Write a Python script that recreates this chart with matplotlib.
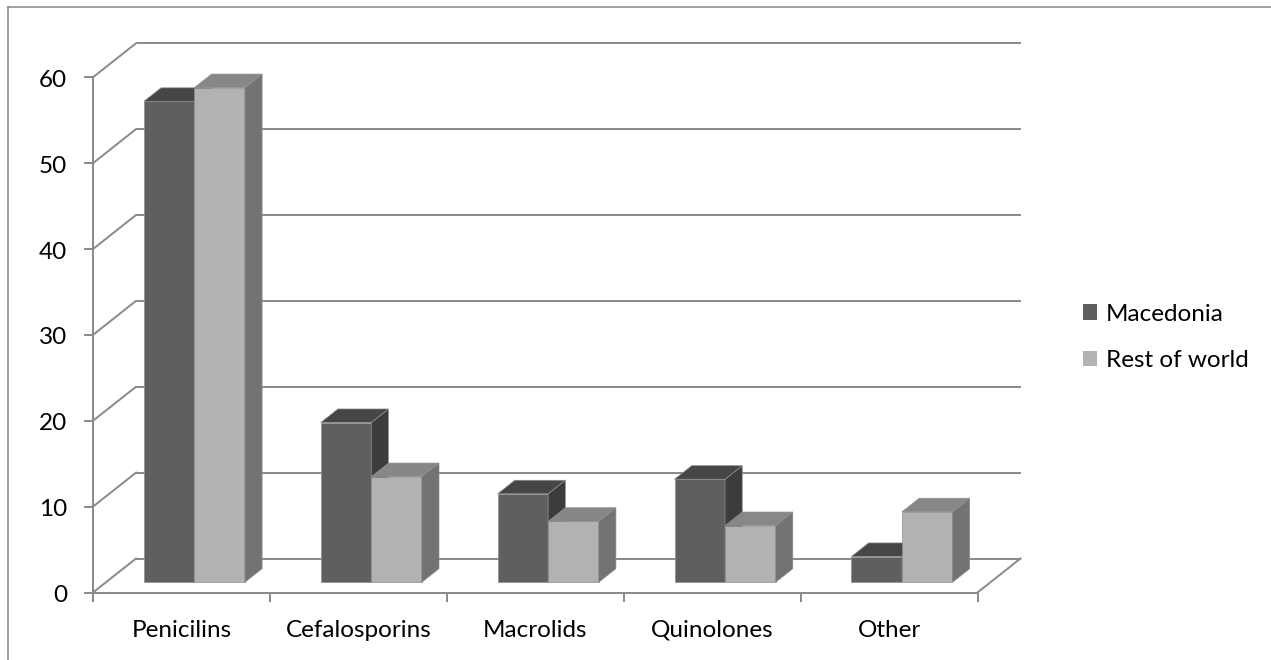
import matplotlib
matplotlib.use("Agg")
import matplotlib.pyplot as plt
from matplotlib.patches import Polygon, Patch
from matplotlib.lines import Line2D

# ---- data -------------------------------------------------------------
categories = ["Penicilins", "Cefalosporins", "Macrolids", "Quinolones", "Other"]
macedonia = [56.0, 18.6, 10.3, 12.0, 3.0]
rest_of_world = [57.6, 12.3, 7.1, 6.6, 8.2]
series_names = ["Macedonia", "Rest of world"]
y_ticks = [0, 10, 20, 30, 40, 50, 60]

# ---- styling ----------------------------------------------------------
plt.rcParams["font.family"] = ["Lato", "DejaVu Sans"]
FONT_SIZE = 17.5
GRID_COLOR = "#8c8c8c"
GRID_LW = 1.45
# (front, top, side) shades for each series
SHADES = [("#5f5f5f", "#464646", "#3c3c3c"),
          ("#b2b2b2", "#878787", "#737373")]

W, H, DPI = 1271, 660, 100
fig = plt.figure(figsize=(W / DPI, H / DPI), dpi=DPI)
ax = fig.add_axes([0, 0, 1, 1])
ax.set_axis_off()

# plot box layout: category width and value unit expressed in pixels
X0_PX, CAT_PX = 93.0, 176.9
Y0_PX, UNIT_PX = 592.5, 8.587
ax.set_xlim(-X0_PX / CAT_PX, (W - X0_PX) / CAT_PX)
ax.set_ylim(-(H - Y0_PX) / UNIT_PX, Y0_PX / UNIT_PX)


def px_x(p):
    return p / CAT_PX


def px_y(p):
    return p / UNIT_PX


# oblique depth offset of the back wall
DX, DY = px_x(43), px_y(34)
n_cat = len(categories)
y_max = y_ticks[-1]

# ---- walls and floor --------------------------------------------------
for v in y_ticks:
    # back wall gridline
    ax.plot([DX, n_cat + DX], [v + DY, v + DY], color=GRID_COLOR,
            lw=GRID_LW, solid_capstyle="butt", zorder=1)
    # side wall diagonal
    ax.plot([0, DX], [v, v + DY], color=GRID_COLOR, lw=GRID_LW, zorder=1)
    # tick on the value axis
    ax.plot([-px_x(7.7), 0], [v, v], color=GRID_COLOR, lw=GRID_LW, zorder=1)
    ax.text(-px_x(26), v - px_y(9.6), f"{v}", ha="right", va="baseline",
            fontsize=FONT_SIZE, color="#000000")

# value axis line
ax.plot([0, 0], [0, y_max], color=GRID_COLOR, lw=GRID_LW, zorder=1)
# floor front and right edges
ax.plot([0, n_cat], [0, 0], color=GRID_COLOR, lw=GRID_LW, zorder=1)
ax.plot([n_cat, n_cat + DX], [0, DY], color=GRID_COLOR, lw=GRID_LW, zorder=1)
# category ticks
for i in range(n_cat + 1):
    ax.plot([i, i], [0, -px_y(8)], color=GRID_COLOR, lw=GRID_LW, zorder=1)

for i, name in enumerate(categories):
    ax.text(i + 0.5, -px_y(44.5), name, ha="center", va="baseline",
            fontsize=FONT_SIZE, color="#000000")

# ---- 3D columns -------------------------------------------------------
GAP = 1.5                      # gap width relative to one column
BAR_W = 1.0 / (len(series_names) + GAP)
D0, D1 = 0.3, 0.7              # column depth range within the floor
EDGE = dict(edgecolor="#8e8e8e", linewidth=0.5)

series = [macedonia, rest_of_world]
for i in range(n_cat):
    for j, values in enumerate(series):
        v = values[i]
        front, top, side = SHADES[j]
        left = i + GAP / 2 * BAR_W + j * BAR_W
        right = left + BAR_W
        fx0, fx1 = left + D0 * DX, right + D0 * DX
        bx0, bx1 = left + D1 * DX, right + D1 * DX
        fy, by = D0 * DY, D1 * DY
        ax.add_patch(Polygon([(fx0, fy), (fx1, fy), (fx1, fy + v), (fx0, fy + v)],
                             closed=True, facecolor=front, zorder=3, **EDGE))
        ax.add_patch(Polygon([(fx1, fy), (bx1, by), (bx1, by + v), (fx1, fy + v)],
                             closed=True, facecolor=side, zorder=3, **EDGE))
        ax.add_patch(Polygon([(fx0, fy + v), (fx1, fy + v), (bx1, by + v), (bx0, by + v)],
                             closed=True, facecolor=top, zorder=3, **EDGE))

# ---- legend -----------------------------------------------------------
handles = [Patch(facecolor=SHADES[k][0], edgecolor="none", label=series_names[k])
           for k in range(len(series_names))]
fpx = FONT_SIZE * DPI / 72.0
ax.legend(handles=handles, loc="center left",
          bbox_to_anchor=(1083 / W, 1 - 337.5 / H), bbox_transform=fig.transFigure,
          frameon=False, fontsize=FONT_SIZE, borderpad=0, borderaxespad=0,
          handlelength=14.4 / fpx, handleheight=14.4 / fpx,
          handletextpad=0.34, labelspacing=1.06)

# ---- chart border -----------------------------------------------------
border = dict(color="#868686", lw=1.1, transform=fig.transFigure)
fig.add_artist(Line2D([8 / W, 8 / W], [0, 1 - 7 / H], **border))
fig.add_artist(Line2D([8 / W, 1], [1 - 7 / H, 1 - 7 / H], **border))

fig.savefig("out.png", dpi=DPI, facecolor="white")
